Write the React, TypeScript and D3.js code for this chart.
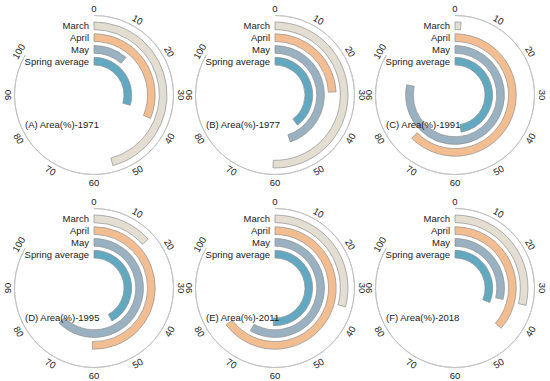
import { scaleLinear, scaleBand, scaleOrdinal, arc, range } from 'd3';

const months = ['March', 'April', 'May', 'Spring average'];
const titles = [
  '(A) Area(%)-1971',
  '(B) Area(%)-1977',
  '(C) Area(%)-1991',
  '(D) Area(%)-1995',
  '(E) Area(%)-2011',
  '(F) Area(%)-2018',
];
const area1971 = [55, 37.5, 13.5, 35.3];
const area1977 = [60.5, 29, 54, 47.8];
const area1991 = [1.6, 75, 94, 56.9];
const area1995 = [16, 60.5, 75, 50.5];
const area2011 = [35, 77.7, 70, 60.9];
const area2018 = [34.6, 43.7, 34.5, 37.6];
const panelValues = [area1971, area1977, area1991, area1995, area2011, area2018];
const ticks = range(0, 101, 10);

const W = 550;
const H = 381;
const colX = [94, 275, 455];
const rowY = [95, 288];
const font = 'Liberation Sans, Arial, sans-serif';

const angle = scaleLinear().domain([0, 100]).range([0, (5 * Math.PI) / 3]);
const radius = scaleBand<string>().domain(months).range([73, 30]).paddingInner(0.35);
const color = scaleOrdinal<string, string>()
  .domain(months)
  .range(['#e3ded1', '#f3bd92', '#99b1c1', '#63a8c1']);

const barArc = arc<any>()
  .innerRadius((d: any) => radius(d.m)!)
  .outerRadius((d: any) => radius(d.m)! + radius.bandwidth())
  .startAngle(0)
  .endAngle((d: any) => angle(d.v));

const ringArc = arc<any>()
  .innerRadius(79.5)
  .outerRadius(79.5)
  .startAngle(0)
  .endAngle(angle(100));

// keep tick labels tangent but readable
function tickRotation(deg: number) {
  const d = Math.round(deg);
  if (d > 90 && d < 270) return d - 180;
  if (d >= 270) return d - 360;
  return d;
}

function Panel({ cx, cy, title, values }: { cx: number; cy: number; title: string; values: number[] }) {
  return (
    <g transform={`translate(${cx},${cy})`}>
      <path d={ringArc({}) ?? ''} fill="none" stroke="#c4c4c4" strokeWidth={1} />
      {ticks.map(t => {
        const a = angle(t);
        const deg = (a * 180) / Math.PI;
        const x = Math.sin(a) * 87;
        const y = -Math.cos(a) * 87;
        return (
          <text
            key={t}
            transform={`translate(${x},${y}) rotate(${tickRotation(deg)})`}
            textAnchor="middle"
            dominantBaseline="central"
            fontSize={9.5}
            fill="#222"
            fontFamily={font}
          >
            {t}
          </text>
        );
      })}
      {months.map((m, i) => (
        <path
          key={m}
          d={barArc({ m, v: values[i] }) ?? ''}
          fill={color(m)}
          stroke="#8f8f8f"
          strokeWidth={0.7}
        />
      ))}
      {months.map(m => (
        <text
          key={m}
          x={-5}
          y={-(radius(m)! + radius.bandwidth() / 2)}
          textAnchor="end"
          dominantBaseline="central"
          fontSize={9.5}
          fill="#1a1a1a"
          fontFamily={font}
        >
          {m}
        </text>
      ))}
      <text x={-69} y={33} fontSize={9.5} fill="#1a1a1a" fontFamily={font}>
        {title}
      </text>
    </g>
  );
}

export default function App() {
  return (
    <div style={{ position: 'absolute', left: 0, top: 0, width: W, height: H, background: '#fff' }}>
      <svg width={W} height={H}>
        {titles.map((t, i) => (
          <Panel
            key={t}
            cx={colX[i % 3]}
            cy={rowY[Math.floor(i / 3)]}
            title={t}
            values={panelValues[i]}
          />
        ))}
      </svg>
    </div>
  );
}
